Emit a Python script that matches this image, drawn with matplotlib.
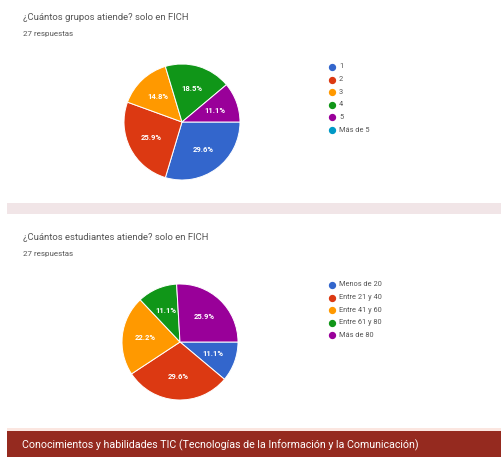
import matplotlib.pyplot as plt
from matplotlib.patches import Rectangle

plt.rcParams['font.family'] = ['Roboto', 'DejaVu Sans']

W, H = 502, 457

# datos
titulo1 = '¿Cuántos grupos atiende? solo en FICH'
titulo2 = '¿Cuántos estudiantes atiende? solo en FICH'
respuestas = '27 respuestas'
grupos = ['1', '2', '3', '4', '5', 'Más de 5']
grupos_n = [8, 7, 4, 5, 3, 0]
estudiantes = ['Menos de 20', 'Entre 21 y 40', 'Entre 41 y 60', 'Entre 61 y 80', 'Más de 80']
estudiantes_n = [3, 8, 6, 3, 7]
seccion = 'Conocimientos y habilidades TIC (Tecnologías de la Información y la Comunicación)'

colores = ['#3366cc', '#dc3912', '#ff9900', '#109618', '#990099', '#0099c6']


def caja(x, y, w, h):
    # pixeles (origen arriba izq) -> fraccion de figura
    return [x / W, 1 - (y + h) / H, w / W, h / H]


fig = plt.figure(figsize=(W / 100, H / 100), dpi=100)
fondo = fig.add_axes([0, 0, 1, 1])
fondo.set_xlim(0, W)
fondo.set_ylim(H, 0)
fondo.axis('off')

# separadores
fondo.add_patch(Rectangle((7, 203), W - 7, 11, color='#f1e5e7', lw=0))
fondo.add_patch(Rectangle((7, 428), W - 7, 3, color='#fbe6e0', lw=0))
fondo.add_patch(Rectangle((7, 431), W - 7, 26, color='#952a1f', lw=0))
fondo.text(22, 445, seccion, color='white', fontsize=7.7, va='center')


def torta(cx, cy, r, valores, etiquetas, titulo, ty, ly):
    fondo.text(23, ty, titulo, fontsize=6.8, color='#555555', va='center')
    fondo.text(23, ty + 17, respuestas, fontsize=5.8, color='#555555', va='center')
    ax = fig.add_axes(caja(cx - r, cy - r, 2 * r, 2 * r))
    vals = [v for v in valores if v > 0]
    cols = [c for v, c in zip(valores, colores) if v > 0]
    ax.pie(vals, colors=cols, startangle=0, counterclock=False,
           autopct=lambda p: f'{p:.1f}%', pctdistance=0.6,
           wedgeprops=dict(edgecolor='white', linewidth=0.7),
           textprops=dict(color='white', fontsize=5.5, fontweight='bold'))
    ax.set_xlim(-1, 1)
    ax.set_ylim(-1, 1)
    # leyenda
    for i, (lab, c) in enumerate(zip(etiquetas, colores)):
        y = ly + i * 12.6
        fondo.scatter(332, y, s=18, color=c, zorder=3)
        fondo.text(339, y, lab, fontsize=5.3, color='#555555', va='center')


torta(182, 122, 58, grupos_n, grupos, titulo1, 17, 67)
torta(180, 342, 58, estudiantes_n, estudiantes, titulo2, 237, 285)

fig.savefig('out.png', dpi=100)
